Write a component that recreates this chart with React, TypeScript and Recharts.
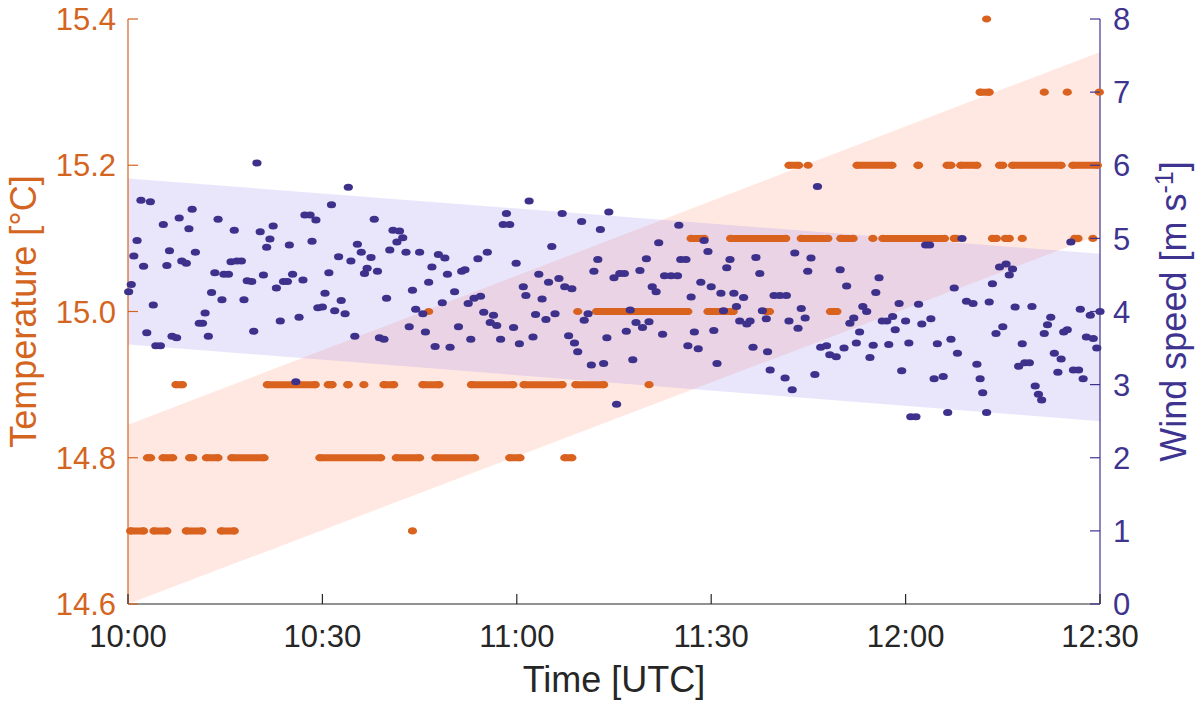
import React from "react";
import { ComposedChart, XAxis, YAxis, Scatter, Area, Label } from "recharts";

const ORANGE = "#d9621f";
const ORANGE_TEXT = "#d4651f";
const PURPLE = "#3d318b";
const PURPLE_TEXT = "#3e3490";
const AXIS_DARK = "#262626";
const FONT = '"Liberation Sans", Arial, Helvetica, sans-serif';

const timeTicks = [0, 30, 60, 90, 120, 150];
const tempTicks = [14.6, 14.8, 15.0, 15.2, 15.4];
const windTicks = [0, 1, 2, 3, 4, 5, 6, 7, 8];

// minutes after 10:00 UTC
const windMinutes = [
  0.1, 0.5, 0.9, 1.4, 2.0, 2.4, 2.9, 3.45, 3.9, 4.3,
  5.0, 5.45, 6.0, 6.4, 6.8, 7.5, 7.9, 8.3, 9.0, 9.4,
  9.9, 10.4, 11.0, 11.5, 11.9, 12.4, 12.9, 13.4, 13.9, 14.5,
  14.8, 15.5, 15.9, 16.4, 16.8, 17.5, 17.9, 18.4, 19.1, 19.4,
  19.9, 20.4, 20.9, 21.4, 21.9, 22.4, 22.9, 23.5, 24.0, 24.6,
  24.9, 25.4, 25.9, 26.4, 27.0, 27.3, 28.1, 28.4, 29.0, 29.3,
  30.0, 30.4, 31.0, 31.4, 31.9, 32.5, 32.9, 33.5, 34.0, 34.4,
  35.0, 35.4, 36.0, 36.5, 36.9, 37.5, 38.0, 38.5, 38.8, 39.5,
  39.9, 40.4, 40.9, 41.5, 41.9, 42.4, 42.9, 43.4, 43.9, 44.4,
  45.0, 45.5, 45.9, 46.4, 46.9, 47.4, 47.9, 48.5, 48.9, 49.3,
  49.7, 50.4, 51.0, 51.5, 52.0, 52.5, 52.9, 53.4, 54.0, 54.4,
  54.9, 55.45, 55.9, 56.4, 56.9, 57.5, 57.9, 58.4, 58.9, 59.5,
  59.9, 60.4, 61.0, 61.4, 61.9, 62.5, 62.9, 63.4, 63.9, 64.5,
  64.9, 65.4, 65.9, 66.5, 67.0, 67.4, 68.0, 68.5, 68.9, 69.4,
  70.0, 70.4, 71.0, 71.5, 71.9, 72.5, 72.9, 73.4, 73.9, 74.2,
  75.0, 75.4, 75.9, 76.6, 76.9, 77.5, 77.9, 78.4, 79.0, 79.4,
  80.0, 80.4, 80.9, 81.5, 81.9, 82.5, 82.8, 83.8, 84.8, 85.0,
  85.3, 86.1, 86.4, 86.9, 87.4, 88.0, 88.4, 88.9, 89.5, 90.0,
  90.4, 90.9, 91.5, 91.9, 92.4, 92.9, 93.5, 93.9, 94.4, 95.0,
  95.5, 96.0, 96.45, 96.9, 97.5, 97.9, 98.5, 98.7, 99.1, 99.7,
  100.6, 101.4, 101.6, 102.0, 102.5, 102.9, 103.4, 103.9, 104.5, 104.9,
  105.4, 106.0, 106.4, 106.9, 107.8, 108.3, 109.3, 109.9, 110.5, 110.9,
  111.4, 112.0, 112.4, 112.9, 113.4, 114.0, 114.5, 115.0, 115.4, 115.9,
  116.4, 117.1, 117.4, 118.0, 118.4, 119.0, 119.4, 120.0, 120.5, 120.8,
  121.6, 122.0, 122.5, 123.1, 123.7, 123.9, 124.4, 124.9, 125.8, 126.5,
  127.0, 127.5, 128.0, 128.7, 129.4, 130.4, 131.0, 131.5, 131.9, 132.5,
  132.9, 133.4, 133.95, 134.5, 135.0, 135.5, 136.0, 136.5, 136.9, 137.45,
  138.0, 138.4, 139.1, 139.5, 140.0, 140.5, 141.0, 141.4, 141.9, 142.4,
  142.95, 143.5, 144.0, 144.4, 144.95, 145.5, 145.9, 146.7, 146.96, 147.4,
  147.9, 148.5, 148.96, 149.5, 150.0,
];

// m/s, same order as windMinutes
const windSpeeds = [
  4.27, 4.37, 4.76, 4.97, 5.52, 4.62, 3.71, 5.5, 4.09, 3.53,
  3.53, 5.19, 4.63, 4.83, 3.66, 3.64, 5.28, 4.69, 4.66, 5.13,
  5.4, 4.81, 3.84, 3.84, 3.98, 3.66, 4.26, 4.53, 5.26, 4.16,
  4.51, 4.51, 4.68, 5.11, 4.69, 4.69, 4.16, 4.42, 4.41, 3.73,
  6.03, 5.09, 4.5, 4.88, 4.99, 5.17, 4.32, 3.87, 4.41, 4.41,
  4.91, 4.51, 3.04, 3.92, 4.43, 5.32, 5.32, 4.96, 5.25, 4.05,
  4.06, 4.25, 4.53, 5.46, 4.01, 4.75, 4.15, 3.97, 5.7, 4.69,
  3.66, 4.92, 4.81, 4.52, 4.59, 4.74, 5.26, 4.55, 3.64, 3.62,
  4.18, 4.84, 5.11, 4.95, 5.1, 5.01, 4.81, 3.79, 4.29, 4.03,
  4.81, 3.97, 3.72, 4.4, 4.61, 3.52, 4.78, 4.12, 4.73, 4.51,
  3.51, 4.27, 3.79, 4.55, 4.57, 4.11, 3.62, 4.18, 4.72, 4.21,
  3.99, 4.81, 3.85, 3.95, 3.81, 3.62, 5.19, 5.34, 5.19, 3.78,
  4.66, 3.56, 4.34, 4.22, 5.51, 3.65, 3.96, 4.51, 4.17, 3.89,
  4.4, 4.89, 3.97, 4.45, 5.34, 4.34, 3.67, 4.31, 3.57, 3.45,
  5.23, 3.88, 3.97, 3.27, 4.55, 4.71, 5.12, 3.29, 3.64, 5.36,
  4.46, 2.73, 4.52, 4.52, 3.73, 4.02, 3.34, 3.85, 4.56, 3.78,
  4.72, 3.86, 4.34, 4.27, 4.94, 3.69, 4.49, 4.49, 4.49, 5.18,
  4.71, 4.71, 3.53, 4.2, 3.72, 3.49, 4.4, 4.97, 4.82, 4.34,
  3.74, 3.29, 4.25, 4.01, 4.6, 4.71, 4.25, 4.07, 3.87, 4.19,
  3.83, 3.87, 3.51, 4.74, 4.52, 4.01, 3.9, 3.45, 3.2, 4.22,
  4.22, 3.09, 4.22, 3.87, 2.93, 4.8, 3.77, 4.04, 3.91, 4.55,
  4.73, 3.14, 5.71, 3.51, 3.53, 3.41, 3.38, 4.57, 3.5, 4.35,
  3.84, 3.91, 3.57, 3.72, 4.07, 4.0, 3.37, 3.54, 4.26, 4.46,
  3.87, 3.87, 3.55, 3.93, 3.75, 4.11, 3.19, 3.87, 3.57, 2.56,
  2.56, 4.1, 3.83, 4.91, 4.91, 3.9, 3.08, 3.56, 3.11, 2.62,
  3.62, 4.32, 3.43, 5.0, 4.14, 4.11, 3.28, 3.08, 2.89, 2.62,
  4.13, 4.38, 3.7, 4.61, 3.79, 4.65, 4.5, 4.58, 4.06, 3.25,
  3.56, 3.3, 3.3, 4.07, 2.98, 2.87, 2.79, 3.7, 3.82, 3.92,
  3.43, 3.17, 3.35, 3.72, 3.75, 4.95, 3.2, 3.2, 4.03, 3.08,
  3.65, 3.95, 3.63, 3.5, 4.0,
];

// temperature is logged in 0.1 °C steps: runs of equal readings [from min, to min, °C]
const tempRuns: [number, number, number][] = [
  [0.4, 2.4, 14.7], [4.0, 6.0, 14.7], [9.0, 11.4, 14.7], [14.4, 16.4, 14.7], [43.9, 43.9, 14.7],
  [3.0, 3.5, 14.8], [5.4, 6.9, 14.8], [9.5, 10.0, 14.8], [12.1, 13.9, 14.8], [16.0, 21.0, 14.8],
  [29.6, 39.0, 14.8], [41.4, 45.0, 14.8], [47.5, 53.5, 14.8], [58.9, 60.5, 14.8], [67.4, 68.5, 14.8],
  [7.4, 8.4, 14.9], [21.5, 28.9, 14.9], [30.9, 31.5, 14.9], [33.9, 34.0, 14.9], [36.4, 36.4, 14.9],
  [39.5, 41.0, 14.9], [45.5, 48.0, 14.9], [53.0, 59.4, 14.9], [61.1, 67.0, 14.9], [69.1, 73.4, 14.9],
  [80.4, 80.4, 14.9],
  [46.4, 46.4, 15.0], [69.4, 69.4, 15.0], [72.3, 86.4, 15.0], [89.5, 93.4, 15.0], [98.5, 99.0, 15.0],
  [108.4, 109.4, 15.0],
  [86.9, 88.9, 15.1], [93.0, 101.5, 15.1], [103.9, 108.0, 15.1], [110.0, 111.9, 15.1], [114.95, 114.95, 15.1],
  [116.5, 126.0, 15.1], [127.5, 127.8, 15.1], [133.4, 134.0, 15.1], [135.4, 136.0, 15.1], [138.0, 138.0, 15.1],
  [146.1, 146.6, 15.1], [148.9, 148.9, 15.1],
  [102.0, 103.5, 15.2], [104.95, 104.95, 15.2], [112.5, 117.9, 15.2], [121.9, 122.0, 15.2], [126.4, 127.0, 15.2],
  [128.5, 131.0, 15.2], [134.5, 135.0, 15.2], [136.5, 144.0, 15.2], [145.8, 149.6, 15.2],
  [131.5, 132.9, 15.3], [141.4, 141.4, 15.3], [144.95, 144.95, 15.3], [149.9, 149.9, 15.3],
  [132.5, 132.5, 15.4],
];

// linear trend bands, read at the two ends of the time axis
const bandMinutes = [0, 150];
const tempBandLow = [14.6, 15.105];
const tempBandHigh = [14.845, 15.355];
const windBandLow = [3.55, 2.5];
const windBandHigh = [5.82, 4.79];

const windData = windMinutes.map((t, i) => ({ t, v: windSpeeds[i] }));
const tempBand = bandMinutes.map((t, i) => ({ t, range: [tempBandLow[i], tempBandHigh[i]] }));
const windBand = bandMinutes.map((t, i) => ({ t, range: [windBandLow[i], windBandHigh[i]] }));

const formatTime = (m: number) =>
  `${10 + Math.floor(m / 60)}:${String(m % 60).padStart(2, "0")}`;

const orangeDot = (p: any) => <ellipse cx={p.cx} cy={p.cy} rx={4.6} ry={3.6} fill={ORANGE} />;
const blueDot = (p: any) => <ellipse cx={p.cx} cy={p.cy} rx={4.6} ry={3.5} fill={PURPLE} />;

const LeftTick = ({ x, y, payload }: any) => (
  <g>
    <line x1={x + 12} x2={x + 22} y1={y} y2={y} stroke={ORANGE_TEXT} strokeWidth={1.2} />
    <text x={x} y={y} dy="0.36em" textAnchor="end" fill={ORANGE_TEXT} fontSize={31} fontFamily={FONT}>
      {Number(payload.value).toFixed(1)}
    </text>
  </g>
);

const RightTick = ({ x, y, payload }: any) => (
  <g>
    <line x1={x - 13} x2={x - 23} y1={y} y2={y} stroke={PURPLE_TEXT} strokeWidth={1.2} />
    <text x={x} y={y} dy="0.36em" textAnchor="start" fill={PURPLE_TEXT} fontSize={31} fontFamily={FONT}>
      {payload.value}
    </text>
  </g>
);

const BottomTick = ({ x, y, payload }: any) => (
  <g>
    <line x1={x} x2={x} y1={y} y2={y - 10} stroke={AXIS_DARK} strokeWidth={1.2} />
    <text x={x} y={y + 43} textAnchor="middle" fill={AXIS_DARK} fontSize={31} fontFamily={FONT}>
      {formatTime(payload.value)}
    </text>
  </g>
);

const TopTick = ({ x, y }: any) => (
  <line x1={x} x2={x} y1={y} y2={y + 10} stroke={AXIS_DARK} strokeWidth={1.2} />
);

const tempTitle = (p: any) => {
  const vb = p.viewBox;
  return (
    <text
      transform={`translate(${vb.x + 36},${vb.y + vb.height / 2}) rotate(-90)`}
      textAnchor="middle"
      fill={ORANGE_TEXT}
      fontSize={36}
      fontFamily={FONT}
    >
      Temperature [°C]
    </text>
  );
};

const windTitle = (p: any) => {
  const vb = p.viewBox;
  return (
    <text
      transform={`translate(${vb.x + 86},${vb.y + vb.height / 2}) rotate(-90)`}
      textAnchor="middle"
      fill={PURPLE_TEXT}
      fontSize={36}
      fontFamily={FONT}
    >
      Wind speed [m s
      <tspan dy={-13} fontSize={25}>-1</tspan>
      <tspan dy={13}>]</tspan>
    </text>
  );
};

const timeTitle = (p: any) => {
  const vb = p.viewBox;
  return (
    <text x={vb.x + vb.width / 2} y={vb.y + 88} textAnchor="middle" fill={AXIS_DARK} fontSize={36} fontFamily={FONT}>
      Time [UTC]
    </text>
  );
};

export default function App() {
  return (
    <div style={{ position: "absolute", left: 0, top: 0, background: "#fff" }}>
      <ComposedChart width={1200} height={705} margin={{ top: 19, right: 0, bottom: 0, left: 0 }}>
        <XAxis
          xAxisId="bottom"
          dataKey="t"
          type="number"
          domain={[0, 150]}
          ticks={timeTicks}
          interval={0}
          height={101}
          tickSize={0}
          tickMargin={0}
          tickLine={false}
          axisLine={{ stroke: AXIS_DARK, strokeWidth: 1.2 }}
          tick={BottomTick}
        >
          <Label content={timeTitle} />
        </XAxis>
        <XAxis
          xAxisId="top"
          orientation="top"
          dataKey="t"
          type="number"
          domain={[0, 150]}
          ticks={timeTicks}
          interval={0}
          height={0}
          tickSize={0}
          tickMargin={0}
          tickLine={false}
          axisLine={{ stroke: AXIS_DARK, strokeWidth: 1.2 }}
          tick={TopTick}
        />
        <YAxis
          yAxisId="T"
          type="number"
          domain={[14.6, 15.4]}
          ticks={tempTicks}
          interval={0}
          width={128}
          tickSize={0}
          tickMargin={12}
          tickLine={false}
          axisLine={{ stroke: ORANGE_TEXT, strokeWidth: 1.2 }}
          tick={LeftTick}
        >
          <Label content={tempTitle} />
        </YAxis>
        <YAxis
          yAxisId="W"
          orientation="right"
          type="number"
          domain={[0, 8]}
          ticks={windTicks}
          interval={0}
          width={100}
          tickSize={0}
          tickMargin={13}
          tickLine={false}
          axisLine={{ stroke: PURPLE_TEXT, strokeWidth: 1.2 }}
          tick={RightTick}
        >
          <Label content={windTitle} />
        </YAxis>

        <Area
          data={tempBand}
          xAxisId="bottom"
          yAxisId="T"
          dataKey="range"
          type="linear"
          stroke="none"
          fill="#ff7f60"
          fillOpacity={0.18}
          isAnimationActive={false}
        />
        <Area
          data={windBand}
          xAxisId="bottom"
          yAxisId="W"
          dataKey="range"
          type="linear"
          stroke="none"
          fill="#7b68ee"
          fillOpacity={0.17}
          isAnimationActive={false}
        />

        {tempRuns.map(([from, to, value], i) => (
          <Scatter
            key={`run-${i}`}
            xAxisId="bottom"
            yAxisId="T"
            dataKey="v"
            data={from === to ? [{ t: from, v: value }] : [{ t: from, v: value }, { t: to, v: value }]}
            line={from === to ? false : { stroke: ORANGE, strokeWidth: 7, strokeLinecap: "round" }}
            shape={orangeDot}
            fill={ORANGE}
            isAnimationActive={false}
          />
        ))}

        <Scatter
          xAxisId="bottom"
          yAxisId="W"
          dataKey="v"
          data={windData}
          shape={blueDot}
          fill={PURPLE}
          isAnimationActive={false}
        />
      </ComposedChart>
    </div>
  );
}
